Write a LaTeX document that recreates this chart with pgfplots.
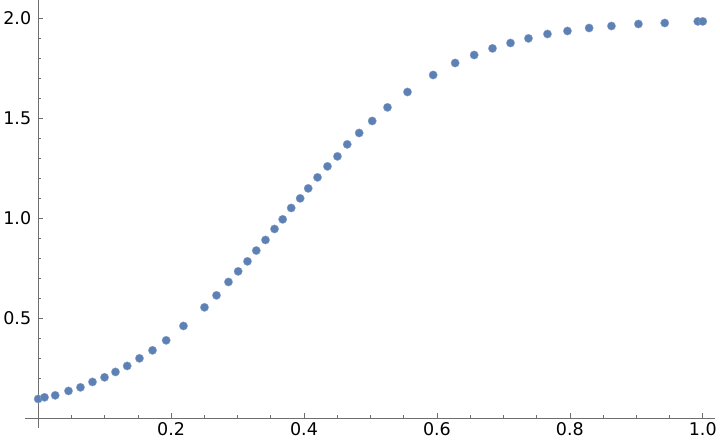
\documentclass[border=0pt]{standalone}
\usepackage{fontspec}
\setmainfont{DejaVu Sans}
\usepackage{pgfplots}
\pgfplotsset{compat=1.18}
\definecolor{pts}{RGB}{94,129,181}
\definecolor{axc}{RGB}{110,110,110}
\begin{document}
\begin{tikzpicture}
\begin{axis}[
  scale only axis, width=691pt, height=428pt,
  xmin=-0.0206, xmax=1.019, ymin=-0.05, ymax=2.09,
  axis lines=middle,
  axis line style={axc, line width=0.8pt, -},
  every inner x axis line/.append style={-},
  every inner y axis line/.append style={-},
  xtick={0.2,0.4,0.6,0.8,1.0},
  ytick={0.5,1.0,1.5,2.0},
  minor xtick={0.05,0.1,0.15,0.25,0.3,0.35,0.45,0.5,0.55,0.65,0.7,0.75,0.85,0.9,0.95},
  minor ytick={0.1,0.2,0.3,0.4,0.6,0.7,0.8,0.9,1.1,1.2,1.3,1.4,1.6,1.7,1.8,1.9},
  tick align=inside,
  major tick length=5pt, minor tick length=3pt,
  tick style={axc, line width=0.7pt},
  ticklabel style={font=\fontsize{17.5}{17.5}\selectfont, text=black},
  yticklabel style={xshift=-3.5pt},
  xticklabel style={yshift=-1pt},
  /pgf/number format/fixed,
  /pgf/number format/fixed zerofill,
  /pgf/number format/precision=1,
  /pgf/number format/assume math mode=true,
  clip=false,
]
\addplot[only marks, mark=*, mark size=4.2pt, color=pts, mark options={fill=pts, draw=pts!70!white, line width=0.3pt}] coordinates {
(0.0,0.097) (0.0095,0.105) (0.0256,0.115) (0.0456,0.137) (0.0636,0.155)
(0.0817,0.182) (0.0998,0.205) (0.1163,0.232) (0.1339,0.262) (0.1524,0.300)
(0.172,0.340) (0.1926,0.390) (0.2186,0.462) (0.2502,0.555) (0.2683,0.615)
(0.2863,0.682) (0.3009,0.735) (0.3149,0.785) (0.3282,0.839) (0.342,0.892)
(0.3556,0.947) (0.3679,0.995) (0.3807,1.052) (0.3942,1.100) (0.4063,1.150)
(0.4203,1.205) (0.4353,1.260) (0.4503,1.310) (0.465,1.370) (0.483,1.427)
(0.5026,1.487) (0.5256,1.555) (0.5557,1.632) (0.5943,1.717) (0.6274,1.777)
(0.656,1.817) (0.6836,1.850) (0.7107,1.877) (0.7377,1.900) (0.7663,1.922)
(0.7964,1.937) (0.829,1.952) (0.8626,1.962) (0.9032,1.972) (0.9428,1.977)
(0.9925,1.985) (1.0,1.985)
};
\end{axis}
\end{tikzpicture}
\end{document}
